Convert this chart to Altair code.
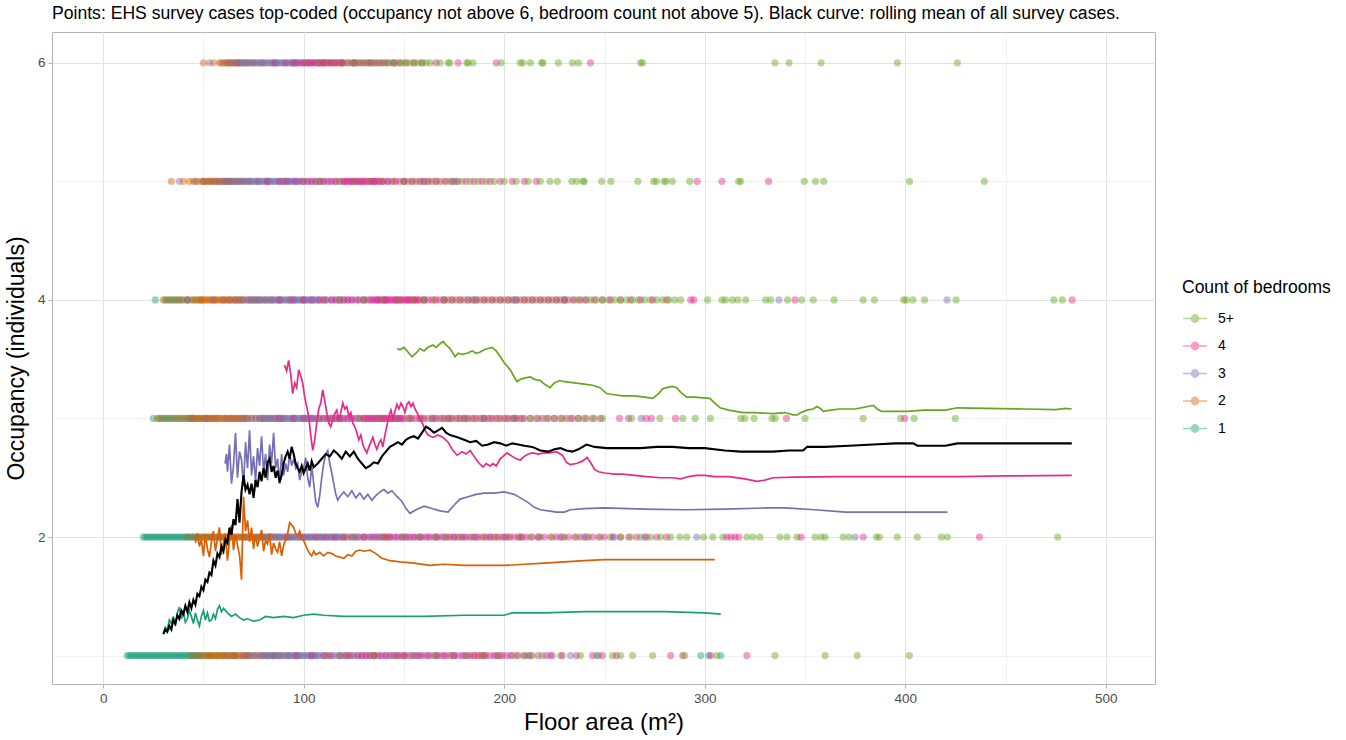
import altair as alt
import pandas as pd

BEDS = ["5+", "4", "3", "2", "1"]
COLORS = ["#66A61E", "#E7298A", "#7570B3", "#D95F02", "#1B9E77"]

TITLE = ("Points: EHS survey cases top-coded (occupancy not above 6, bedroom count not above 5). "
         "Black curve: rolling mean of all survey cases.")

# ---- survey points: floor areas (m2) per occupancy row and bedroom count ----
occ1_bed1 = [12, 13, 14, 15, 16, 17, 18, 19, 20, 21, 22, 23, 24, 25, 26, 27, 28, 29, 30, 31, 32, 33, 34, 35, 36, 37,
             38, 39, 40, 41, 42, 43, 44, 45, 46, 47, 48, 50, 52, 54, 57, 60, 65, 72, 85, 298, 302, 308]
occ1_bed2 = [44, 46, 48, 49, 51, 52, 53, 54, 55, 56, 57, 58, 59, 60, 61, 62, 63, 64, 65, 66, 67, 68, 69, 70, 71, 72,
             73, 75, 77, 79, 82, 85, 88, 92, 97, 104, 112, 122, 135, 150, 188]
occ1_bed3 = [62, 66, 70, 73, 75, 76, 78, 79, 80, 81, 82, 83, 84, 85, 86, 87, 88, 89, 90, 91, 92, 93, 94, 95, 96, 97,
             98, 99, 100, 101, 102, 103, 104, 105, 106, 107, 108, 110, 111, 113, 115, 117, 119, 121, 123, 125, 127,
             129, 131, 133, 135, 138, 141, 144, 147, 150, 154, 158, 162, 166, 170, 175, 180, 185, 190, 196, 203, 212,
             223, 233, 247]
occ1_bed4 = [96, 104, 110, 114, 118, 121, 124, 127, 129, 131, 133, 135, 137, 139, 141, 143, 145, 147, 149, 151, 153,
             155, 157, 159, 161, 163, 165, 167, 169, 171, 173, 175, 177, 179, 181, 183, 185, 187, 189, 191, 193, 195,
             197, 199, 201, 204, 207, 210, 213, 217, 221, 224, 229, 236, 244, 249, 256, 283, 289, 303, 321]
occ1_bed5 = [118, 135, 146, 156, 166, 174, 182, 190, 198, 206, 210, 214, 219, 228, 238, 246, 254, 258, 264, 274, 290,
             306, 335, 360, 376, 402]

occ2_bed1 = [20, 21, 22, 23, 24, 25, 26, 27, 28, 29, 30, 31, 32, 33, 34, 35, 36, 37, 38, 39, 40, 41, 42, 43, 44, 45,
             46, 47, 48, 50, 52, 54, 57, 60, 64, 70, 80]
occ2_bed2 = [42, 45, 47, 49, 50, 51, 52, 53, 54, 55, 56, 57, 58, 59, 60, 61, 62, 63, 64, 65, 66, 67, 68, 69, 70, 71,
             72, 73, 74, 75, 76, 77, 78, 79, 80, 82, 84, 86, 88, 91, 94, 98, 103, 108, 114, 121, 130, 142]
occ2_bed3 = [58, 63, 67, 71, 74, 77, 79, 81, 82, 83, 84, 85, 86, 87, 88, 89, 90, 91, 92, 93, 94, 95, 96, 97, 98, 99,
             100, 101, 102, 103, 104, 105, 106, 107, 108, 109, 110, 111, 112, 113, 114, 115, 116, 117, 118, 119, 120,
             122, 124, 126, 128, 130, 132, 134, 136, 138, 140, 143, 146, 149, 152, 155, 158, 162, 166, 170, 175, 180,
             186, 193, 200, 208, 217, 228, 240, 255, 270, 296, 375]
occ2_bed4 = [92, 100, 106, 111, 116, 120, 124, 127, 130, 133, 135, 137, 139, 141, 143, 145, 147, 149, 151, 153, 155,
             157, 159, 161, 163, 165, 167, 169, 171, 173, 175, 177, 179, 181, 183, 185, 187, 189, 191, 193, 195, 197,
             199, 201, 203, 205, 207, 209, 211, 214, 217, 220, 223, 226, 229, 232, 235, 238, 241, 244, 247, 250, 254,
             258, 262, 266, 271, 276, 281, 311, 313, 315, 317, 348, 379, 437]
occ2_bed5 = [125, 140, 150, 158, 166, 172, 178, 184, 190, 196, 202, 208, 213, 218, 224, 230, 236, 242, 248, 253, 258,
             263, 268, 273, 278, 283, 287.6, 291, 299.5, 304, 309, 321, 324, 327.5, 337.5, 341, 346, 355, 358, 360,
             369, 372, 385.6, 387, 396, 406, 418, 421, 476]

occ3_bed1 = [25, 28, 30, 32, 33, 35, 37, 39, 41, 43, 45, 48, 51, 55]
occ3_bed2 = [27, 29, 31, 34, 36, 38, 40, 42, 43, 44, 45, 46, 47, 48, 49, 50, 51, 52, 53, 54, 55, 56, 57, 58, 59, 60,
             61, 62, 63, 64, 65, 66, 67, 68, 69, 70, 71, 72, 74, 76, 78, 80, 83, 86, 90, 95, 101, 108, 118]
occ3_bed3 = [45, 52, 57, 61, 64, 67, 70, 72, 74, 76, 78, 79, 80, 81, 82, 83, 84, 85, 86, 87, 88, 89, 90, 91, 92, 93,
             94, 95, 96, 97, 98, 99, 100, 101, 102, 103, 104, 105, 106, 108, 110, 112, 114, 116, 118, 120, 122, 124,
             127, 130, 133, 136, 140, 144, 148, 153, 158, 165, 172, 180, 190, 205, 268.3]
occ3_bed4 = [88, 95, 100, 104, 107, 110, 112, 114, 116, 118, 120, 122, 124, 126, 128, 130, 131, 132, 133, 134, 135,
             136, 137, 138, 139, 140, 141, 142, 143, 144, 145, 146, 147, 148, 149, 150, 152, 154, 156, 158, 160, 162,
             164, 166, 168, 170, 172, 174, 176, 178, 180, 182, 184, 186, 188, 190, 192, 194, 196, 198, 200, 202, 204,
             206, 208, 210, 213, 216, 219, 222, 225, 228, 231, 234, 237, 240, 244, 248, 257.5, 262, 270.8, 273.4,
             285.4, 340.7, 399.7]
occ3_bed5 = [115, 128, 138, 146, 153, 159, 164, 169, 173, 177, 181, 185, 189, 193, 197, 201, 205, 209, 213, 217, 221,
             225, 229, 233, 237, 241, 245, 249, 263.5, 277.6, 289, 295.2, 302.8, 318, 320, 324.6, 333.5, 335.1, 350,
             379, 397.6, 404.4, 424.9]

occ4_bed1 = [26, 31, 33, 35, 37, 39, 42, 45, 49]
occ4_bed2 = [30, 32, 34, 36, 38, 40, 42, 44, 46, 47, 48, 49, 50, 51, 52, 53, 54, 55, 56, 57, 58, 59, 60, 61, 62, 63,
             64, 65, 66, 67, 68, 69, 70, 72, 74, 76, 78, 81, 84, 88, 93, 100, 110]
occ4_bed3 = [42, 55, 60, 63, 66, 68, 70, 72, 73, 74, 75, 76, 77, 78, 79, 80, 81, 82, 83, 84, 85, 86, 87, 88, 89, 90,
             91, 92, 93, 94, 95, 96, 97, 98, 99, 100, 101, 102, 103, 104, 105, 106, 107, 108, 110, 112, 114, 116, 118,
             120, 122, 124, 127, 130, 133, 137, 141, 146, 152, 160, 170, 185, 205, 230, 337, 420.8]
occ4_bed4 = [88, 95, 100, 104, 108, 111, 114, 116, 118, 120, 122, 124, 126, 128, 130, 132, 134, 135, 136, 137, 138,
             139, 140, 141, 142, 143, 144, 145, 146, 147, 148, 149, 150, 151, 152, 153, 154, 155, 156, 157, 158, 160,
             162, 164, 166, 168, 170, 172, 174, 176, 178, 180, 182, 184, 186, 188, 190, 192, 194, 196, 198, 200, 202,
             204, 206, 208, 210, 212, 214, 216, 218, 220, 222, 224, 226, 228, 230, 232, 235, 238, 241, 245, 249, 253,
             258, 263, 268, 274, 281, 293, 294.5, 345, 483.2]
occ4_bed5 = [118, 130, 140, 148, 155, 160, 165, 170, 174, 178, 182, 186, 190, 194, 198, 202, 206, 210, 214, 218, 222,
             226, 230, 234, 237, 240, 243, 246, 249, 252, 255, 258, 261, 264, 267, 270, 273, 276, 279, 282, 285, 288,
             301.4, 308.6, 310.3, 313.8, 316.5, 320.4, 330.3, 332.8, 341.3, 348.3, 354.1, 364.5, 379, 384.6, 399.2,
             400.5, 403.8, 409.6, 425.3, 474.1, 478.3]

occ5_bed2 = [34, 40, 43, 45, 47, 49, 50, 51, 52, 53, 54, 55, 56, 57, 58, 59, 60, 61, 62, 63, 64, 66, 68, 70, 73, 77,
             82, 90, 100]
occ5_bed3 = [38, 46, 50, 53, 56, 58, 60, 61, 62, 63, 64, 65, 66, 67, 68, 69, 70, 71, 72, 73, 74, 75, 76, 77, 78, 79,
             80, 81, 82, 83, 84, 85, 86, 87, 88, 89, 90, 91, 92, 93, 94, 95, 96, 97, 98, 100, 102, 104, 106, 108, 110,
             113, 116, 120, 124, 129, 135, 142, 150, 160, 175]
occ5_bed4 = [82, 88, 92, 96, 99, 102, 104, 106, 108, 110, 112, 114, 116, 118, 120, 121, 122, 123, 124, 125, 126, 127,
             128, 129, 130, 131, 132, 133, 134, 135, 136, 137, 138, 139, 140, 142, 144, 146, 148, 150, 152, 154, 156,
             158, 160, 162, 164, 166, 168, 171, 174, 177, 181, 185, 189, 193, 198, 204, 210, 216, 296.2, 308.6,
             331.8]
occ5_bed5 = [108, 118, 126, 133, 139, 145, 150, 154, 158, 162, 166, 170, 173, 176, 179, 183, 187, 191, 195, 200,
             206, 212, 218, 222.8, 226.5, 233.7, 236.2, 239.3, 239.9, 248.6, 253.2, 266.6, 274.5, 275.9, 279.7,
             280.7, 283.8, 292.5, 316.9, 317.9, 349.6, 355.2, 359.3, 402.1, 439.4]

occ6_bed2 = [50, 55, 58, 60, 61, 62, 63, 64, 65, 66, 67, 68, 70, 72, 75, 79, 85, 95, 110, 125]
occ6_bed3 = [53, 59, 62, 64, 66, 67, 68, 69, 70, 71, 72, 73, 74, 75, 76, 77, 78, 79, 80, 81, 82, 83, 84, 85, 86, 87,
             88, 89, 90, 91, 92, 93, 94, 95, 96, 97, 98, 100, 102, 104, 107, 110, 114, 119, 125, 133, 145]
occ6_bed4 = [86, 91, 95, 97, 99, 100, 101, 102, 103, 104, 105, 106, 107, 108, 109, 110, 111, 112, 113, 114, 115, 116,
             117, 118, 119, 120, 122, 124, 126, 128, 130, 132, 134, 136, 138, 140, 142, 145, 148, 151, 155, 159, 166,
             177, 196, 243]
occ6_bed5 = [102, 108, 112, 116, 119, 122, 125, 127, 129, 131, 133, 135, 137, 139, 141, 143, 145, 147, 149, 151, 153,
             155, 157, 159, 161, 163, 168, 172, 173, 181.3, 182, 184.4, 198.5, 208, 209.3, 213, 218.7, 219.3, 227,
             234, 237, 268, 269, 335, 342, 358, 396, 426]

POINTS = {
    (1, "1"): occ1_bed1, (1, "2"): occ1_bed2, (1, "3"): occ1_bed3, (1, "4"): occ1_bed4, (1, "5+"): occ1_bed5,
    (2, "1"): occ2_bed1, (2, "2"): occ2_bed2, (2, "3"): occ2_bed3, (2, "4"): occ2_bed4, (2, "5+"): occ2_bed5,
    (3, "1"): occ3_bed1, (3, "2"): occ3_bed2, (3, "3"): occ3_bed3, (3, "4"): occ3_bed4, (3, "5+"): occ3_bed5,
    (4, "1"): occ4_bed1, (4, "2"): occ4_bed2, (4, "3"): occ4_bed3, (4, "4"): occ4_bed4, (4, "5+"): occ4_bed5,
    (5, "2"): occ5_bed2, (5, "3"): occ5_bed3, (5, "4"): occ5_bed4, (5, "5+"): occ5_bed5,
    (6, "2"): occ6_bed2, (6, "3"): occ6_bed3, (6, "4"): occ6_bed4, (6, "5+"): occ6_bed5,
}

# ---- rolling means (floor area, mean occupancy) ----
line_bed1 = [(30, 1.19), (31, 1.24), (32, 1.22), (33, 1.30), (34, 1.27), (35, 1.33), (36, 1.25), (37, 1.36),
             (38, 1.41), (39, 1.31), (40, 1.37), (41, 1.28), (42, 1.31), (43, 1.38), (44, 1.33), (45, 1.27),
             (46, 1.36), (47, 1.30), (48, 1.25), (49, 1.33), (50, 1.38), (51, 1.30), (52, 1.36), (53, 1.29),
             (54, 1.30), (55, 1.35), (56, 1.31), (57, 1.39), (58, 1.42), (59, 1.37), (60, 1.40), (62, 1.36),
             (64, 1.33), (66, 1.35), (68, 1.32), (70, 1.30), (72, 1.31), (75, 1.29), (78, 1.30), (81, 1.33),
             (85, 1.32), (90, 1.33), (95, 1.32), (100, 1.34), (105, 1.35), (110, 1.34), (120, 1.33), (130, 1.33),
             (140, 1.33), (150, 1.33), (160, 1.33), (180, 1.34), (200, 1.34), (202, 1.35), (204, 1.36),
             (220, 1.36), (240, 1.37), (260, 1.37), (280, 1.37), (300, 1.36), (308, 1.35)]
line_bed2 = [(46, 1.95), (47, 2.03), (48, 1.92), (49, 1.98), (50, 1.84), (51, 2.02), (52, 1.90), (53, 1.83),
             (54, 1.96), (55, 2.05), (56, 1.88), (57, 1.99), (58, 2.08), (59, 1.85), (60, 1.95), (61, 2.03),
             (62, 1.80), (63, 1.97), (64, 2.10), (65, 1.89), (66, 2.02), (67, 1.93), (68, 1.85), (69, 1.64),
             (70, 2.34), (71, 2.05), (72, 2.14), (73, 1.96), (74, 2.08), (75, 1.90), (76, 2.02), (77, 1.92),
             (78, 1.99), (79, 2.06), (80, 1.88), (81, 1.97), (82, 1.94), (83, 2.03), (84, 1.85), (85, 1.95),
             (86, 1.90), (87, 1.87), (88, 1.96), (89, 1.84), (90, 1.93), (91, 1.98), (92, 2.03), (93, 2.12),
             (94, 2.10), (95, 2.08), (96, 2.03), (97, 2.01), (98, 2.05), (99, 1.99), (100, 1.97), (101, 1.93),
             (102, 1.89), (103, 1.86), (104, 1.84), (105, 1.88), (106, 1.85), (108, 1.87), (110, 1.84),
             (112, 1.87), (114, 1.86), (116, 1.84), (118, 1.83), (120, 1.82), (122, 1.85), (124, 1.84),
             (126, 1.88), (128, 1.89), (130, 1.88), (133, 1.89), (136, 1.86), (139, 1.82), (143, 1.80),
             (148, 1.79), (155, 1.78), (163, 1.76), (170, 1.77), (180, 1.76), (190, 1.76), (200, 1.76),
             (210, 1.77), (220, 1.78), (230, 1.79), (240, 1.80), (250, 1.81), (260, 1.81), (280, 1.81), (305, 1.81)]
line_bed3 = [(60.8, 2.62), (61.5, 2.70), (62, 2.55), (63, 2.78), (64, 2.45), (65, 2.60), (66, 2.88), (67, 2.50),
             (68, 2.72), (69, 2.65), (70, 2.43), (71, 2.80), (72, 2.58), (73, 2.90), (74, 2.52), (75, 2.68),
             (76, 2.47), (77, 2.75), (78, 2.60), (79, 2.85), (80, 2.55), (81, 2.70), (82, 2.48), (83, 2.78),
             (84, 2.62), (85, 2.88), (86, 2.58), (87, 2.66), (88, 2.45), (89, 2.70), (90, 2.52), (91, 2.62),
             (92, 2.55), (93, 2.70), (94, 2.60), (95, 2.66), (96, 2.58), (97, 2.62), (98, 2.48), (99, 2.55),
             (100, 2.58), (101, 2.67), (102, 2.50), (103, 2.42), (104, 2.60), (105, 2.45), (106, 2.30),
             (107, 2.25), (108, 2.35), (109, 2.50), (110, 2.62), (111, 2.70), (112, 2.73), (113, 2.62),
             (114, 2.54), (115, 2.45), (116, 2.36), (117, 2.31), (118, 2.34), (120, 2.38), (122, 2.34),
             (124, 2.39), (126, 2.33), (128, 2.37), (130, 2.32), (132, 2.36), (134, 2.31), (136, 2.35),
             (138, 2.38), (140, 2.40), (142, 2.37), (144, 2.39), (146.6, 2.34), (149, 2.30), (151, 2.24),
             (153, 2.20), (156, 2.23), (160, 2.26), (164, 2.24), (168, 2.22), (172, 2.21), (175, 2.27),
             (178, 2.32), (182, 2.34), (186, 2.36), (190, 2.37), (195, 2.37), (200, 2.38), (205, 2.36),
             (208, 2.33), (212, 2.29), (215, 2.25), (218, 2.23), (222, 2.22), (226, 2.21), (230, 2.21),
             (233, 2.23), (240, 2.24), (250, 2.245), (270, 2.235), (290, 2.23), (310, 2.235), (330, 2.245),
             (340, 2.245), (355, 2.23), (370, 2.21), (390, 2.21), (421, 2.21)]
line_bed4 = [(90.5, 3.45), (91.5, 3.40), (92.5, 3.49), (93.5, 3.38), (94.5, 3.21), (95.5, 3.30), (96.5, 3.26),
             (97.5, 3.41), (98.5, 3.36), (99.5, 3.30), (100.5, 3.18), (101.5, 3.10), (102.5, 3.02), (103.5, 2.86),
             (104.5, 2.73), (105.5, 2.82), (106.5, 2.96), (107.5, 3.08), (108.5, 3.13), (109.5, 3.24),
             (110.5, 3.15), (111.5, 3.05), (112.5, 2.96), (113.5, 2.93), (114.5, 3.00), (115.5, 3.04),
             (116.5, 3.07), (117.5, 2.98), (118.5, 3.05), (119.5, 3.13), (120.5, 3.08), (121.5, 3.10),
             (122.5, 3.02), (123.5, 3.05), (124.5, 2.96), (125.5, 2.93), (126.5, 2.88), (127.5, 2.82),
             (128.5, 2.86), (129.5, 2.78), (130.5, 2.74), (131.5, 2.71), (132.5, 2.76), (133.5, 2.80),
             (134.5, 2.84), (135.5, 2.78), (136.5, 2.74), (137.5, 2.79), (138.5, 2.82), (139.5, 2.76),
             (140.5, 2.86), (141.5, 2.94), (142.5, 3.02), (143.5, 3.07), (144.5, 3.00), (145.5, 3.06),
             (146.5, 3.12), (147.5, 3.08), (148.5, 3.13), (149.5, 3.10), (150.5, 3.05), (151.5, 3.12),
             (152.5, 3.14), (153.5, 3.10), (154.5, 3.13), (155.5, 3.08), (156.5, 3.05), (157.5, 3.01),
             (158.5, 2.98), (159.5, 2.95), (160.5, 2.90), (162, 2.86), (164.5, 2.84), (167, 2.86), (169.5, 2.84),
             (172, 2.80), (174, 2.74), (176.5, 2.69), (179, 2.72), (181, 2.70), (183, 2.73), (185, 2.68),
             (187, 2.63), (189.4, 2.59), (191, 2.62), (193, 2.60), (194.4, 2.62), (196, 2.60), (198, 2.66),
             (201.4, 2.71), (204, 2.68), (206, 2.66), (208, 2.65), (210, 2.68), (212, 2.70), (214, 2.71),
             (217, 2.70), (220, 2.71), (223, 2.71), (226, 2.72), (229, 2.69), (231, 2.63), (233, 2.61),
             (236, 2.62), (239, 2.64), (241.3, 2.67), (243, 2.63), (245, 2.57), (247, 2.55), (250, 2.54),
             (255, 2.53), (259, 2.53), (265, 2.52), (271, 2.51), (278, 2.50), (284, 2.50), (288, 2.49),
             (292, 2.51), (296, 2.52), (300, 2.52), (305, 2.51), (312, 2.51), (320, 2.49), (326, 2.47),
             (330, 2.48), (334, 2.50), (345, 2.505), (367, 2.51), (400, 2.51), (427, 2.51), (450, 2.515),
             (483, 2.52)]
line_bed5 = [(146.6, 3.59), (148, 3.58), (150, 3.60), (152, 3.56), (154, 3.52), (156, 3.55), (158, 3.59),
             (160, 3.57), (162, 3.60), (164.5, 3.62), (166, 3.60), (168, 3.63), (169.5, 3.65), (171, 3.62),
             (173, 3.59), (175.5, 3.52), (177, 3.55), (179, 3.54), (181.5, 3.55), (184, 3.57), (186, 3.55),
             (188, 3.56), (190, 3.58), (192, 3.59), (194, 3.60), (196, 3.57), (198, 3.52), (200, 3.47),
             (203, 3.41), (205, 3.35), (206.4, 3.31), (208, 3.33), (210, 3.34), (213, 3.35), (215, 3.33),
             (218, 3.32), (220, 3.29), (222.8, 3.26), (225, 3.30), (227.8, 3.32), (230, 3.31), (235, 3.30),
             (240, 3.29), (244, 3.28), (247.8, 3.26), (251, 3.21), (255, 3.20), (259, 3.19), (265, 3.19),
             (270, 3.18), (274, 3.17), (277, 3.21), (279, 3.25), (281, 3.26), (284, 3.27), (286, 3.26),
             (288, 3.22), (291, 3.18), (295, 3.18), (302.5, 3.17), (305, 3.13), (307.6, 3.09), (312, 3.07),
             (319, 3.05), (325, 3.05), (334, 3.04), (340, 3.05), (344, 3.03), (346, 3.03), (348, 3.05),
             (351, 3.07), (354, 3.08), (356, 3.10), (358, 3.08), (359, 3.06), (363, 3.07), (367, 3.08),
             (375, 3.08), (384, 3.11), (386, 3.08), (388, 3.06), (395, 3.06), (400.8, 3.06), (409, 3.07),
             (415, 3.07), (420, 3.07), (426, 3.09), (440, 3.085), (460, 3.08), (475, 3.075), (480, 3.085),
             (483, 3.08)]
line_all = [(30, 1.18), (31, 1.22), (32, 1.20), (33, 1.25), (34, 1.22), (35, 1.30), (36, 1.27), (37, 1.34),
            (38, 1.31), (39, 1.38), (40, 1.35), (41, 1.42), (42, 1.37), (43, 1.45), (44, 1.40), (45, 1.47),
            (46, 1.43), (47, 1.52), (48, 1.50), (49, 1.58), (50, 1.55), (51, 1.64), (52, 1.62), (53, 1.70),
            (54, 1.68), (55, 1.80), (56, 1.76), (57, 1.86), (58, 1.83), (59, 1.92), (60, 1.88), (61, 1.98),
            (62, 1.95), (63, 2.08), (64, 2.02), (65, 2.15), (66, 2.10), (67, 2.32), (68, 2.12), (69, 2.38),
            (70, 2.52), (71, 2.40), (72, 2.44), (73, 2.36), (74, 2.45), (75, 2.33), (76, 2.48), (77, 2.42),
            (78, 2.55), (79, 2.47), (80, 2.58), (81, 2.50), (82, 2.63), (83, 2.66), (84, 2.55), (85, 2.60),
            (86, 2.50), (87, 2.56), (88, 2.46), (89, 2.52), (90, 2.62), (91, 2.68), (92, 2.72), (93, 2.66),
            (94, 2.76), (95, 2.70), (96, 2.62), (97, 2.58), (98, 2.55), (99, 2.60), (100, 2.54), (101, 2.58),
            (102, 2.62), (103, 2.56), (104, 2.64), (105, 2.59), (107, 2.62), (109, 2.66), (111, 2.70),
            (113, 2.68), (115, 2.73), (117, 2.70), (119, 2.66), (121, 2.72), (123, 2.68), (125, 2.72),
            (127, 2.66), (129, 2.62), (131, 2.58), (133, 2.60), (135, 2.63), (137, 2.62), (139, 2.68),
            (141, 2.72), (143, 2.76), (145, 2.78), (147, 2.80), (149, 2.78), (151, 2.82), (153, 2.84),
            (155, 2.85), (157, 2.83), (159, 2.88), (161, 2.93), (163, 2.91), (165, 2.88), (167, 2.90),
            (169, 2.92), (171, 2.88), (173, 2.86), (175, 2.85), (177, 2.84), (180, 2.82), (183, 2.80),
            (186, 2.81), (189, 2.77), (192, 2.78), (195, 2.80), (198, 2.79), (201, 2.77), (204, 2.79),
            (207, 2.78), (210, 2.77), (214, 2.76), (218, 2.73), (222, 2.72), (225, 2.74), (228, 2.75),
            (231, 2.73), (234, 2.72), (237, 2.74), (241, 2.78), (245, 2.76), (251, 2.75), (260, 2.75),
            (268, 2.75), (276, 2.76), (284, 2.76), (292, 2.75), (300, 2.75), (310, 2.73), (318, 2.72),
            (326, 2.72), (334, 2.72), (342, 2.73), (349, 2.73), (351, 2.76), (360, 2.76), (372, 2.77),
            (384, 2.78), (395, 2.79), (404, 2.79), (406, 2.77), (412, 2.77), (420, 2.77), (426, 2.79),
            (440, 2.79), (460, 2.79), (483, 2.79)]

LINES = {"1": line_bed1, "2": line_bed2, "3": line_bed3, "4": line_bed4, "5+": line_bed5}

# ---- tables ----
pt_rows = []
for (occ, bed), areas in POINTS.items():
    for a in areas:
        pt_rows.append({"area": a, "occ": occ, "bed": bed})
pts = pd.DataFrame(pt_rows).sort_values("area", kind="stable").reset_index(drop=True)

ln_rows = []
for bed, pairs in LINES.items():
    for i, (xv, yv) in enumerate(pairs):
        ln_rows.append({"area": xv, "occ": yv, "bed": bed, "i": i})
lines = pd.DataFrame(ln_rows)
all_df = pd.DataFrame([{"area": xv, "occ": yv, "i": i} for i, (xv, yv) in enumerate(line_all)])

FONT = "Liberation Sans"

x_scale = alt.Scale(domain=[-25.5, 524.5], nice=False, zero=False)
y_scale = alt.Scale(domain=[0.76, 6.26], nice=False, zero=False)
color_scale = alt.Scale(domain=BEDS, range=COLORS)

x_axis = alt.Axis(
    values=[0, 50, 100, 150, 200, 250, 300, 350, 400, 450, 500],
    labelExpr="datum.value % 100 === 0 ? datum.label : ''",
    title="Floor area (m²)",
    gridWidth={"condition": {"test": "datum.value % 100 !== 0", "value": 0.5}, "value": 1},
    tickOpacity={"condition": {"test": "datum.value % 100 !== 0", "value": 0}, "value": 1},
    titleFontSize=24, titlePadding=6, titleFontWeight="normal", titleFont=FONT, titleColor="black",
    labelFontSize=13.5, labelFont=FONT, labelColor="#4d4d4d", labelPadding=3,
    gridColor="#e3e3e3", domain=False, tickColor="#b3b3b3", tickSize=4,
)
y_axis = alt.Axis(
    values=[1, 2, 3, 4, 5, 6],
    labelExpr="datum.value % 2 === 0 ? datum.label : ''",
    title="Occupancy (individuals)",
    gridWidth={"condition": {"test": "datum.value % 2 !== 0", "value": 0.5}, "value": 1},
    tickOpacity={"condition": {"test": "datum.value % 2 !== 0", "value": 0}, "value": 1},
    titleFontSize=23, titlePadding=9, titleFontWeight="normal", titleFont=FONT, titleColor="black",
    labelFontSize=13.5, labelFont=FONT, labelColor="#4d4d4d", labelPadding=3,
    gridColor="#e3e3e3", domain=False, tickColor="#b3b3b3", tickSize=4,
)

SYMBOL = "M-1,0L1,0M0.3,0A0.3,0.3,0,1,1,-0.3,0A0.3,0.3,0,1,1,0.3,0Z"
legend = alt.Legend(
    title="Count of bedrooms", orient="none", legendX=1130, legendY=247,
    titleFontSize=17.5, titleFont=FONT, titleFontWeight="normal", titleColor="black", titlePadding=9,
    labelFontSize=14, labelFont=FONT, labelColor="black", labelOffset=10,
    symbolType=SYMBOL, symbolSize=576, symbolStrokeWidth=1.6, rowPadding=7.5, padding=0,
)

points = alt.Chart(pts).mark_circle(size=52, opacity=0.45).encode(
    x=alt.X("area:Q", scale=x_scale, axis=x_axis),
    y=alt.Y("occ:Q", scale=y_scale, axis=y_axis),
    color=alt.Color("bed:N", scale=color_scale, legend=legend),
)
bed_lines = alt.Chart(lines).mark_line(strokeWidth=1.7).encode(
    x=alt.X("area:Q", scale=x_scale, axis=x_axis),
    y=alt.Y("occ:Q", scale=y_scale, axis=y_axis),
    color=alt.Color("bed:N", scale=color_scale, legend=legend),
    order="i:Q",
)
black_line = alt.Chart(all_df).mark_line(strokeWidth=2.1, color="black").encode(
    x=alt.X("area:Q", scale=x_scale, axis=x_axis),
    y=alt.Y("occ:Q", scale=y_scale, axis=y_axis),
    order="i:Q",
)

chart = alt.layer(points, bed_lines, black_line).properties(
    width=1103, height=652,
    title=alt.Title(TITLE, anchor="start", frame="group", fontSize=17.6, font=FONT,
                    fontWeight="normal", color="black", offset=9),
    autosize=alt.AutoSizeParams(type="none"),
    padding={"left": 52, "top": 32, "right": 191, "bottom": 56},
).configure(
    background="white"
).configure_view(
    stroke="#b3b3b3", strokeWidth=1
).configure_axis(
    labelFont=FONT, titleFont=FONT, labelFontSize=13.5, labelColor="#4d4d4d",
    titleColor="black", titleFontWeight="normal",
    gridColor="#e3e3e3", domain=False, tickColor="#b3b3b3", tickSize=4, labelPadding=3,
)

chart.save("out.html", embed_options={"renderer": "svg", "actions": False})
